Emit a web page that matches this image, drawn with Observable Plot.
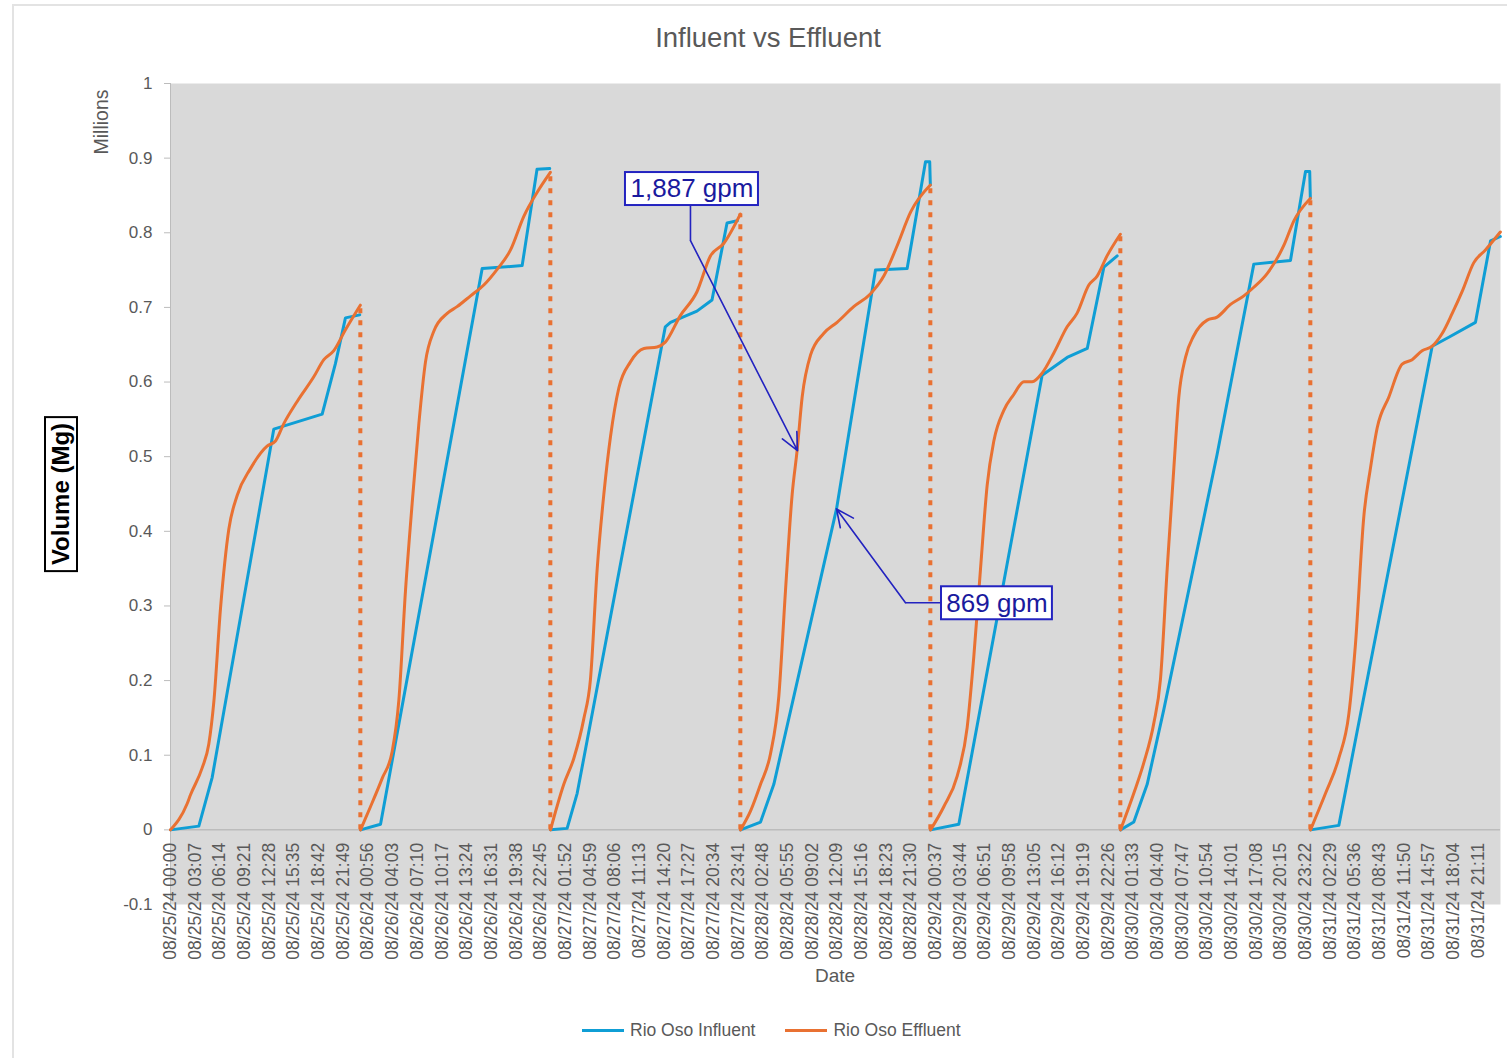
<!DOCTYPE html>
<html>
<head>
<meta charset="utf-8">
<script src="https://cdn.jsdelivr.net/npm/d3@7"></script>
<script src="https://cdn.jsdelivr.net/npm/@observablehq/plot@0.6"></script>
<style>
  body { margin: 0; background: #fff; }
  #wrap { position: relative; width: 1507px; height: 1058px; overflow: hidden; font-family: "Liberation Sans", Arial, sans-serif; color: #595959; }
  .rot { position: absolute; transform: translate(-50%, -50%) rotate(-90deg); white-space: nowrap; }
</style>
</head>
<body>
<div id="wrap">
  <div style="position:absolute;left:12px;top:4px;width:1530px;height:1090px;border:2px solid #e3e3e3;box-sizing:border-box;"></div>
  <div style="position:absolute;left:568px;top:22px;width:400px;text-align:center;font-size:27.5px;color:#595959;">Influent vs Effluent</div>
  <div id="chart" style="position:absolute;left:0;top:60px;"></div>
  <div class="rot" style="left:101px;top:122px;font-size:19.5px;color:#595959;">Millions</div>
  <div class="rot" style="left:61px;top:494px;font-size:24px;font-weight:bold;color:#000;border:2px solid #000;padding:0 5px;line-height:30px;">Volume (Mg)</div>
  <div style="position:absolute;left:735px;top:965px;width:200px;text-align:center;font-size:19px;color:#595959;">Date</div>
  <div id="legend" style="position:absolute;left:582px;top:1020px;display:flex;align-items:center;font-size:17.5px;color:#595959;white-space:nowrap;"></div>
</div>
<script>
// ---------- data ----------
const seriesNames = ["Rio Oso Influent", "Rio Oso Effluent"];
const seriesColors = ["#0F9ED5", "#E97132"];

// hours since 08/25/24 00:00, volume in millions of gallons
const influentHours = [
  0, 3.58, 5.26, 13.05, 19.16, 20.84, 22.1, 23.9,
  24, 26.53, 39.37, 44.42, 46.3, 47.9,
  48, 50.1, 51.37, 62.5, 63.16, 66.5, 68.4, 70.3, 71.6,
  72, 74.53, 76.21, 84.13, 89.05, 93.05, 95.37, 95.9, 95.98,
  96, 99.58, 110.1, 113.26, 115.8, 117.9, 119.58,
  120, 121.68, 123.37, 125.47, 132.2, 136.84, 141.47, 143.37, 143.9, 143.98,
  144, 147.58, 159.37, 161.47, 164.84, 166.74, 167.98
];
const influentMg = [
  0, 0.005, 0.070, 0.537, 0.557, 0.625, 0.686, 0.690,
  0, 0.0075, 0.752, 0.756, 0.885, 0.886,
  0, 0.002, 0.049, 0.674, 0.680, 0.695, 0.710, 0.813, 0.816,
  0, 0.0105, 0.061, 0.430, 0.750, 0.752, 0.895, 0.895, 0.864,
  0, 0.0075, 0.609, 0.633, 0.645, 0.754, 0.769,
  0, 0.0105, 0.061, 0.161, 0.503, 0.758, 0.763, 0.882, 0.882, 0.846,
  0, 0.006, 0.648, 0.660, 0.680, 0.789, 0.795
];
const effluentHours = [
  0, 2.1, 2.53, 4.0, 4.84, 5.47, 6.32, 7.37, 8.42, 10.1, 12.2, 13.26, 14.3, 16.0, 18.1, 19.37, 20.63, 22.1, 23.98,
  24, 25.26, 26.74, 28.0, 28.84, 29.68, 30.53, 31.37, 32.21, 33.26, 34.95, 36.2, 37.9, 39.58, 41.26, 42.95, 44.63, 46.3, 47.98,
  48, 49.68, 50.95, 52.21, 53.05, 53.9, 54.74, 55.58, 56.63, 58.1, 59.8, 61.47, 62.5, 64.4, 66.5, 68.2, 69.9, 71.98,
  72, 73.26, 74.53, 75.79, 76.84, 77.68, 78.53, 79.16, 79.79, 80.84, 82.5, 84.2, 86.3, 88.4, 90.1, 91.8, 93.5, 95.98,
  96, 97.68, 99.37, 100.63, 101.47, 102.32, 103.16, 104.0, 105.26, 106.5, 107.8, 108.84, 110.1, 111.58, 113.26, 114.5, 116.0, 117.05, 118.3, 119.98,
  120, 121.68, 122.95, 124.21, 125.05, 125.9, 126.74, 127.37, 128.21, 129.26, 130.95, 132.2, 133.9, 135.58, 136.84, 138.5, 140.63, 141.9, 143.98,
  144, 145.9, 147.58, 148.84, 149.68, 150.74, 151.58, 152.42, 153.9, 155.58, 156.84, 158.1, 159.37, 160.63, 161.9, 163.16, 164.63, 166.1, 167.98
];
const effluentMg = [
  0, 0.035, 0.047, 0.083, 0.115, 0.171, 0.297, 0.403, 0.448, 0.484, 0.514, 0.521, 0.544, 0.574, 0.607, 0.630, 0.642, 0.670, 0.703,
  0, 0.031, 0.069, 0.105, 0.173, 0.320, 0.438, 0.544, 0.627, 0.668, 0.692, 0.701, 0.7155, 0.730, 0.751, 0.777, 0.822, 0.854, 0.881,
  0, 0.061, 0.096, 0.149, 0.202, 0.350, 0.450, 0.527, 0.592, 0.627, 0.645, 0.647, 0.6535, 0.689, 0.721, 0.769, 0.786, 0.825,
  0, 0.025, 0.061, 0.102, 0.179, 0.320, 0.450, 0.509, 0.580, 0.636, 0.665, 0.680, 0.701, 0.718, 0.742, 0.783, 0.828, 0.864,
  0, 0.031, 0.072, 0.137, 0.232, 0.350, 0.462, 0.521, 0.562, 0.583, 0.6005, 0.6005, 0.612, 0.639, 0.674, 0.692, 0.730, 0.742, 0.769, 0.798,
  0, 0.049, 0.090, 0.143, 0.202, 0.350, 0.485, 0.580, 0.633, 0.662, 0.683, 0.687, 0.704, 0.7155, 0.727, 0.745, 0.783, 0.816, 0.846,
  0, 0.049, 0.096, 0.155, 0.249, 0.4205, 0.485, 0.5385, 0.580, 0.624, 0.630, 0.642, 0.648, 0.665, 0.692, 0.7215, 0.760, 0.777, 0.801
];

const tickLabels = [
  "08/25/24 00:00","08/25/24 03:07","08/25/24 06:14","08/25/24 09:21","08/25/24 12:28","08/25/24 15:35","08/25/24 18:42","08/25/24 21:49",
  "08/26/24 00:56","08/26/24 04:03","08/26/24 07:10","08/26/24 10:17","08/26/24 13:24","08/26/24 16:31","08/26/24 19:38","08/26/24 22:45",
  "08/27/24 01:52","08/27/24 04:59","08/27/24 08:06","08/27/24 11:13","08/27/24 14:20","08/27/24 17:27","08/27/24 20:34","08/27/24 23:41",
  "08/28/24 02:48","08/28/24 05:55","08/28/24 09:02","08/28/24 12:09","08/28/24 15:16","08/28/24 18:23","08/28/24 21:30",
  "08/29/24 00:37","08/29/24 03:44","08/29/24 06:51","08/29/24 09:58","08/29/24 13:05","08/29/24 16:12","08/29/24 19:19","08/29/24 22:26",
  "08/30/24 01:33","08/30/24 04:40","08/30/24 07:47","08/30/24 10:54","08/30/24 14:01","08/30/24 17:08","08/30/24 20:15","08/30/24 23:22",
  "08/31/24 02:29","08/31/24 05:36","08/31/24 08:43","08/31/24 11:50","08/31/24 14:57","08/31/24 18:04","08/31/24 21:11"
];
const yTicks = [-0.1, 0, 0.1, 0.2, 0.3, 0.4, 0.5, 0.6, 0.7, 0.8, 0.9, 1];

// annotations (hours, millions)
const annoText = ["1,887 gpm", "869 gpm"];
const annoBoxH1 = [57.47, 97.39], annoBoxH2 = [74.27, 111.4];
const annoBoxV1 = [0.8365, 0.2815], annoBoxV2 = [0.8807, 0.3257];
const annoFromH = [65.68, 97.39], annoFromV = [0.8365, 0.3043];
const annoElbowH = [65.68, 92.84], annoElbowV = [0.7895, 0.3043];
const annoTipH = [79.2, 84.13], annoTipV = [0.508, 0.430];

// ---------- build ----------
const start = Date.UTC(2024, 7, 25);
const toDate = h => new Date(start + h * 3600e3);
const parse = d3.utcParse("%m/%d/%y %H:%M");

const influent = influentHours.map((h, i) => ({t: toDate(h), v: influentMg[i], day: Math.floor(h / 24)}));
const effluent = effluentHours.map((h, i) => ({t: toDate(h), v: effluentMg[i], day: Math.floor(h / 24)}));
const drops = Array.from(d3.group(effluent, d => d.day).values())
  .map(g => g[g.length - 1])
  .filter(d => d.day < 6);
const ticks = tickLabels.map(s => ({t: parse(s), label: s}));
const annos = annoText.map((s, i) => ({
  text: s,
  bx1: toDate(annoBoxH1[i]), bx2: toDate(annoBoxH2[i]), by1: annoBoxV1[i], by2: annoBoxV2[i],
  cx: toDate((annoBoxH1[i] + annoBoxH2[i]) / 2), cy: (annoBoxV1[i] + annoBoxV2[i]) / 2,
  fx: toDate(annoFromH[i]), fy: annoFromV[i],
  ex: toDate(annoElbowH[i]), ey: annoElbowV[i],
  tx: toDate(annoTipH[i]), ty: annoTipV[i]
}));
const annoBlue = "#2323c0";
const fmt = d => (d < 0 ? "-" : "") + d3.format(".1~f")(Math.abs(d));

const chart = Plot.plot({
  width: 1507,
  height: 940,
  marginLeft: 170,
  marginRight: 7,
  marginTop: 23,
  marginBottom: 96,
  style: {fontFamily: "'Liberation Sans', Arial, sans-serif", fontSize: "17px", color: "#595959", background: "transparent"},
  x: {type: "utc", domain: [toDate(0), toDate(168)], axis: null},
  y: {domain: [-0.1, 1], axis: null},
  marks: [
    Plot.frame({fill: "#d9d9d9", stroke: null}),
    Plot.ruleX([toDate(0)], {stroke: "#bcbcbc", strokeWidth: 1}),
    Plot.ruleY([0], {stroke: "#bcbcbc", strokeWidth: 1.5}),
    Plot.axisY({ticks: yTicks, tickSize: 6, tickPadding: 12, tickFormat: fmt, fontSize: 17, stroke: "#bcbcbc", fill: "#595959", label: null}),
    Plot.line(influent, {x: "t", y: "v", z: "day", stroke: seriesColors[0], strokeWidth: 3, strokeLinejoin: "round"}),
    Plot.ruleX(drops, {x: "t", y1: 0, y2: "v", stroke: seriesColors[1], strokeWidth: 4, strokeDasharray: "5,7"}),
    Plot.line(effluent, {x: "t", y: "v", z: "day", stroke: seriesColors[1], strokeWidth: 3, curve: "monotone-x", strokeLinejoin: "round"}),
    Plot.text(ticks, {x: "t", y: () => 0, text: "label", rotate: -90, textAnchor: "end", lineAnchor: "middle", dy: 13, fontSize: 17.5, fill: "#595959"}),
    Plot.link(annos, {x1: "fx", y1: "fy", x2: "ex", y2: "ey", stroke: annoBlue, strokeWidth: 1.6}),
    Plot.arrow(annos, {x1: "ex", y1: "ey", x2: "tx", y2: "ty", stroke: annoBlue, strokeWidth: 1.6, headLength: 18, headAngle: 50}),
    Plot.rect(annos, {x1: "bx1", x2: "bx2", y1: "by1", y2: "by2", fill: "#fff", stroke: annoBlue, strokeWidth: 2}),
    Plot.text(annos, {x: "cx", y: "cy", text: "text", fontSize: 26, fill: "#1a1a9e", textAnchor: "middle", lineAnchor: "middle"})
  ]
});
document.getElementById("chart").appendChild(chart);

// legend
const legend = document.getElementById("legend");
seriesNames.forEach((name, i) => {
  const item = document.createElement("div");
  item.style.cssText = "display:flex;align-items:center;margin-right:" + (i === 0 ? "30px" : "0");
  item.innerHTML = `<span style="display:inline-block;width:42px;height:3px;background:${seriesColors[i]};margin-right:6px"></span><span>${name}</span>`;
  legend.appendChild(item);
});
</script>
</body>
</html>
